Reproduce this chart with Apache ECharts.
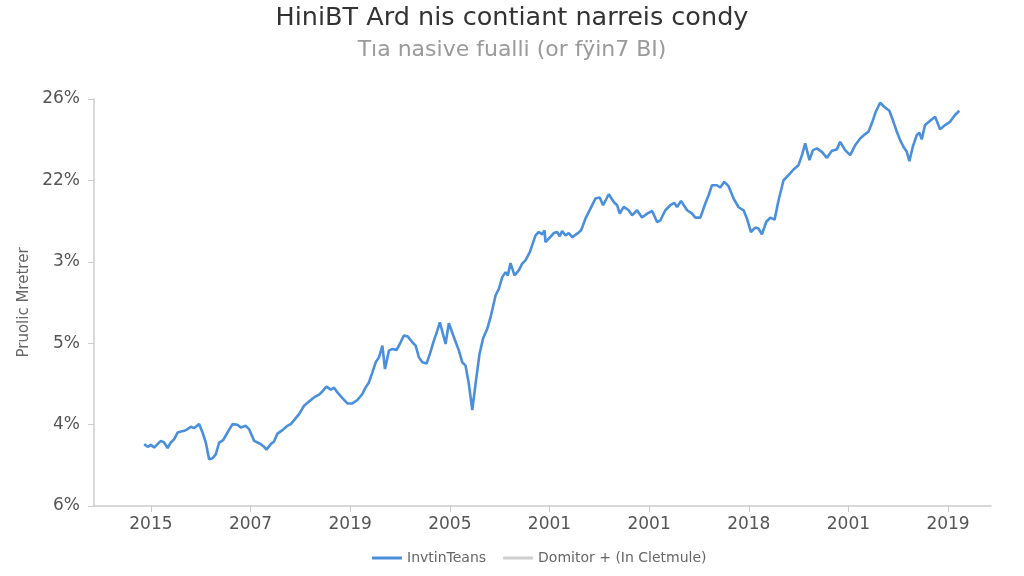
<!DOCTYPE html>
<html>
<head>
<meta charset="utf-8">
<script src="https://cdn.jsdelivr.net/npm/echarts@6.0.0/dist/echarts.min.js"></script>
<style>
html,body{margin:0;padding:0;background:#fff;}
#chart{width:1024px;height:576px;}
</style>
</head>
<body>
<div id="chart"></div>
<script>
// Tick labels as printed in the reference
const xTickLabels = ['2015','2007','2019','2005','2001','2001','2018','2001','2019'];
const yTickLabels = ['6%','4%','5%','3%','22%','26%'];
const seriesNames = ['InvtinTeans','Domitor + (In Cletmule)'];

// Main series: [position along x ticks, position along y ticks]
const mainX = [-0.067,-0.033,0,0.033,0.067,0.1,0.133,0.167,0.2,0.234,0.268,0.301,0.334,0.368,0.401,0.434,0.484,0.518,0.551,0.584,0.619,0.652,0.685,0.725,0.769,0.819,0.869,0.902,0.952,0.985,1.036,1.07,1.103,1.136,1.16,1.203,1.236,1.27,1.32,1.37,1.404,1.437,1.487,1.537,1.587,1.637,1.687,1.721,1.761,1.805,1.838,1.872,1.922,1.972,2.022,2.072,2.122,2.155,2.188,2.223,2.256,2.289,2.323,2.349,2.389,2.423,2.466,2.506,2.539,2.579,2.624,2.657,2.69,2.724,2.767,2.8,2.84,2.874,2.9,2.957,2.99,3.041,3.091,3.125,3.158,3.191,3.225,3.258,3.298,3.335,3.375,3.409,3.459,3.492,3.526,3.559,3.582,3.609,3.649,3.692,3.726,3.759,3.803,3.86,3.893,3.927,3.95,3.96,3.993,4.043,4.077,4.103,4.127,4.16,4.193,4.228,4.278,4.318,4.361,4.411,4.461,4.504,4.538,4.595,4.645,4.679,4.705,4.745,4.795,4.829,4.879,4.929,4.98,5.03,5.08,5.113,5.163,5.213,5.253,5.28,5.32,5.381,5.431,5.464,5.514,5.564,5.597,5.631,5.681,5.714,5.754,5.797,5.848,5.898,5.948,5.982,6.022,6.065,6.098,6.132,6.175,6.216,6.259,6.299,6.349,6.399,6.449,6.499,6.534,6.566,6.609,6.644,6.684,6.734,6.784,6.834,6.884,6.917,6.967,7.018,7.068,7.118,7.168,7.201,7.235,7.275,7.318,7.358,7.411,7.452,7.486,7.519,7.552,7.586,7.612,7.646,7.686,7.712,7.736,7.769,7.82,7.87,7.92,7.97,8.02,8.07,8.113];
const mainY = [0.76,0.727,0.751,0.718,0.76,0.8,0.78,0.711,0.78,0.821,0.903,0.915,0.924,0.945,0.973,0.957,1.006,0.903,0.78,0.575,0.587,0.637,0.78,0.809,0.903,1.006,0.998,0.964,0.985,0.945,0.8,0.78,0.76,0.727,0.693,0.76,0.792,0.89,0.932,0.985,1.006,1.055,1.129,1.232,1.284,1.334,1.367,1.408,1.466,1.429,1.453,1.395,1.326,1.26,1.26,1.302,1.376,1.457,1.518,1.642,1.765,1.826,1.97,1.683,1.909,1.93,1.918,2.011,2.094,2.081,2.011,1.97,1.826,1.765,1.752,1.868,2.032,2.155,2.257,1.991,2.245,2.073,1.909,1.765,1.724,1.499,1.179,1.499,1.868,2.065,2.176,2.319,2.586,2.669,2.812,2.873,2.833,2.984,2.833,2.894,2.977,3.017,3.119,3.325,3.366,3.337,3.387,3.243,3.284,3.353,3.366,3.313,3.378,3.325,3.353,3.304,3.346,3.387,3.531,3.654,3.777,3.789,3.695,3.83,3.735,3.695,3.592,3.674,3.633,3.571,3.633,3.543,3.592,3.624,3.489,3.51,3.633,3.695,3.723,3.674,3.748,3.633,3.592,3.543,3.543,3.716,3.818,3.941,3.941,3.913,3.982,3.929,3.777,3.67,3.633,3.531,3.366,3.42,3.408,3.337,3.489,3.543,3.518,3.756,4.002,4.064,4.134,4.187,4.31,4.454,4.249,4.372,4.393,4.351,4.277,4.363,4.381,4.474,4.372,4.31,4.433,4.516,4.569,4.597,4.701,4.844,4.954,4.905,4.856,4.72,4.597,4.495,4.413,4.351,4.236,4.413,4.557,4.585,4.504,4.68,4.733,4.782,4.627,4.68,4.72,4.803,4.856];

const mainData = mainX.map((x, i) => [x, mainY[i]]);
const tickIdx = xTickLabels.map((_, i) => i);

const chart = echarts.init(document.getElementById('chart'), null, {renderer: 'canvas'});
const FONT = 'DejaVu Sans, Verdana, sans-serif';
chart.setOption({
  backgroundColor: '#ffffff',
  animation: false,
  title: {
    text: 'HiniBT Ard nis contiant narreis condy',
    subtext: 'Tıa nasive fualli (or fÿin7 BI)',
    left: 'center',
    top: 0,
    itemGap: 8,
    textStyle: {fontFamily: FONT, fontSize: 25.5, fontWeight: 'normal', color: '#333'},
    subtextStyle: {fontFamily: FONT, fontSize: 22, color: '#9a9a9a'}
  },
  legend: {
    left: 367,
    top: 546,
    icon: 'rect',
    itemWidth: 30,
    itemHeight: 3,
    itemGap: 17,
    textStyle: {fontFamily: FONT, fontSize: 14, color: '#666'},
    data: seriesNames
  },
  grid: {left: 94, right: 33, top: 99, bottom: 70, containLabel: false},
  xAxis: {
    type: 'value',
    min: -0.571,
    max: 8.431,
    axisLine: {show: true, onZero: false, lineStyle: {color: '#cccccc', width: 1.5}},
    axisTick: {show: true, customValues: tickIdx, length: 6, lineStyle: {color: '#cccccc'}},
    axisLabel: {
      customValues: tickIdx,
      margin: 10,
      fontFamily: FONT, fontSize: 17, color: '#555',
      formatter: v => xTickLabels[Math.round(v)] || ''
    },
    splitLine: {show: false}
  },
  yAxis: {
    type: 'value',
    min: 0,
    max: 5,
    interval: 1,
    name: 'Pruolic Mretrer',
    nameLocation: 'middle',
    nameRotate: 90,
    nameGap: 52,
    nameTextStyle: {fontFamily: FONT, fontSize: 15, color: '#666'},
    axisLine: {show: true, onZero: false, lineStyle: {color: '#cccccc', width: 1.5}},
    axisTick: {show: true, length: 6, lineStyle: {color: '#cccccc'}},
    axisLabel: {
      margin: 14,
      fontFamily: FONT, fontSize: 17, color: '#555',
      formatter: v => yTickLabels[Math.round(v)] || ''
    },
    splitLine: {show: false}
  },
  series: [
    {
      name: seriesNames[0],
      type: 'line',
      data: mainData,
      symbol: 'none',
      smooth: false,
      lineStyle: {color: '#4a8fdc', width: 2.6},
      itemStyle: {color: '#4a8fdc'}
    },
    {
      name: seriesNames[1],
      type: 'line',
      data: [],
      symbol: 'none',
      lineStyle: {color: '#cfcfcf', width: 2},
      itemStyle: {color: '#cfcfcf'}
    }
  ]
});
</script>
</body>
</html>
